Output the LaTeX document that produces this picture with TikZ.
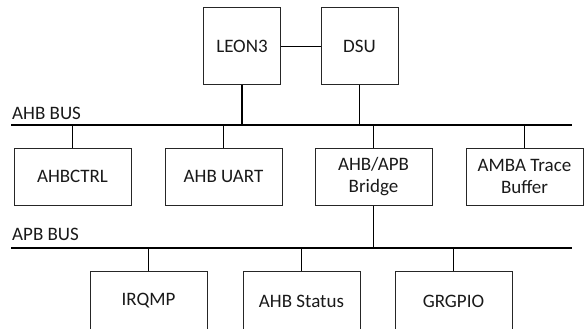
\documentclass[tikz,border=0pt]{standalone}
\usepackage{fontspec}
\setmainfont{Carlito}
\begin{document}
\begin{tikzpicture}[x=1pt,y=-1pt,
  txt/.style={font=\fontsize{19}{22}\selectfont,text=black!90},
  box/.style={txt,draw=black!85,line width=1pt,inner sep=0pt,align=center},
  blk/.style={box,minimum width=117pt,minimum height=57pt},
  blkc/.style={box,minimum width=117pt,minimum height=60pt},
  sq/.style={box,minimum width=77pt,minimum height=77pt},
  busline/.style={line width=2pt},
  stem/.style={line width=1.7pt},
  lbl/.style={txt,anchor=base west,inner sep=0pt}]
\useasboundingbox (0,0) rectangle (584,329);
\clip (0,0) rectangle (584,329);
% top
\node[sq] (leon) at (242,46.5) {LEON3};
\node[sq] (dsu) at (359.5,46.5) {DSU};
\draw[stem] (leon.east) -- (dsu.west);
% AHB bus
\coordinate (ahbL) at (11,124.5);
\coordinate (ahbR) at (572,124.5);
\draw[busline] (ahbL) -- (ahbR);
\node[lbl] (ahblbl) at (12,120) {AHB BUS};
\draw[stem] (leon.south) -- (leon.south |- ahbL);
\draw[stem] (dsu.south) -- (dsu.south |- ahbL);
% AHB slaves
\node[blk] (ctrl) at (72.5,176.5) {AHBCTRL};
\node[blk] (uart) at (223.5,176.5) {AHB UART};
\node[blk] (bridge) at (373.5,176.5) {AHB/APB\\Bridge};
\node[blk] (amba) at (524.5,176.5) {AMBA Trace\\Buffer};
\foreach \n in {ctrl,uart,bridge,amba}{
  \draw[stem] (\n.north) -- (\n.north |- ahbL);
}
% APB bus
\coordinate (apbL) at (11,248);
\coordinate (apbR) at (572,248);
\draw[busline] (apbL) -- (apbR);
\node[lbl] (apblbl) at (12,240) {APB BUS};
\draw[stem] (bridge.south) -- (bridge.south |- apbL);
% APB slaves (bottom edges fall just outside the picture)
\node[blkc] (irq) at (148.5,301) {IRQMP};
\node[blkc] (stat) at (301.5,301) {AHB Status};
\node[blkc] (gpio) at (453.5,301) {GRGPIO};
\foreach \n in {irq,stat,gpio}{
  \draw[stem] (\n.north) -- (\n.north |- apbL);
}
\end{tikzpicture}
\end{document}
